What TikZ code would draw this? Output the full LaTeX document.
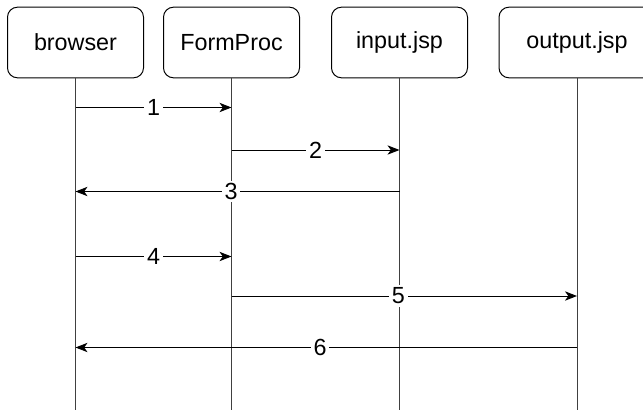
\documentclass[tikz,border=0pt]{standalone}
\usepackage{fontspec}
\setmainfont{Liberation Sans}
\usetikzlibrary{arrows.meta,positioning}

\begin{document}
\begin{tikzpicture}[
    x=0.75pt, y=-0.75pt,
    party/.style={draw, rounded corners=7.5pt, minimum width=102pt, minimum height=53pt, font=\fontsize{17.5}{20}\selectfont, line width=0.75pt},
    life/.style={draw=black!75, line width=0.75pt},
    msg/.style={-{Stealth[length=9pt, width=7pt, inset=2.5pt]}, line width=0.75pt},
    num/.style={fill=white, inner sep=2pt, font=\fontsize{17.5}{20}\selectfont}
  ]
    \useasboundingbox (0,0) rectangle (643,410);

    % Participants
    \node[party] (browser) at (75.5, 42.5) {browser};
    \node[party] (formproc) at (231.5, 42.5) {FormProc};
    \node[party] (inputjsp) at (399.5, 42.5) {input.jsp};
    \node[party, minimum width=117pt] (outputjsp) at (577, 42.5) {output.jsp};

    % Lifelines
    \coordinate (bottom) at (0, 412);
    \foreach \p in {browser, formproc, inputjsp, outputjsp}
      \draw[life] (\p.south) -- (\p.south |- bottom);

    % Messages
    \foreach \src/\dst/\yy/\n/\at in {browser/formproc/107.5/1/0.5, formproc/inputjsp/150/2/0.5,
        inputjsp/browser/191.5/3/0.52, browser/formproc/256.5/4/0.5,
        formproc/outputjsp/296/5/0.483, outputjsp/browser/347.5/6/0.512}
      \draw[msg] (\src.south |- 0,\yy) -- node[num, pos=\at] {\n} (\dst.south |- 0,\yy);

  \end{tikzpicture}
\end{document}
